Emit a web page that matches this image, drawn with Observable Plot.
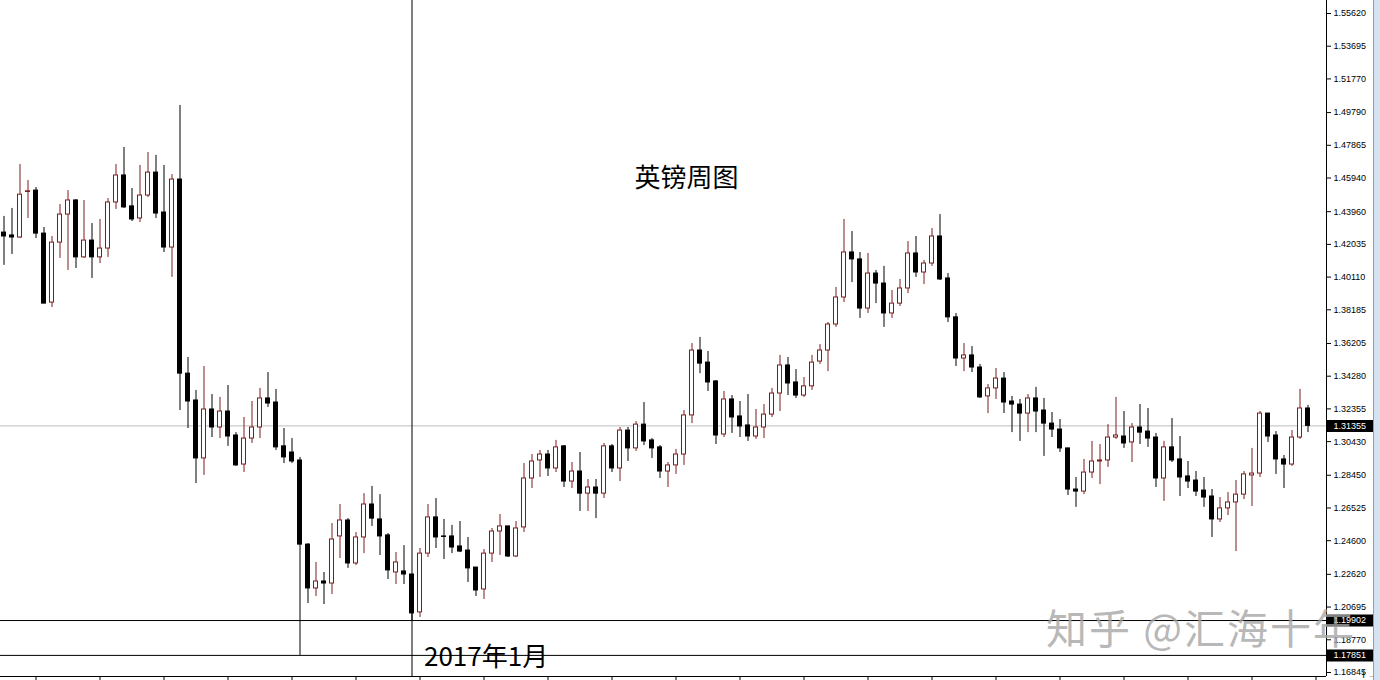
<!DOCTYPE html>
<html>
<head>
<meta charset="utf-8">
<script src="https://cdn.jsdelivr.net/npm/d3@7"></script>
<script src="https://cdn.jsdelivr.net/npm/@observablehq/plot@0.6"></script>
<style>
  html, body { margin: 0; padding: 0; background: #fff; overflow: hidden; }
  #wrap { position: relative; width: 1380px; height: 680px; }
  #strip { position: absolute; left: 1373px; top: 0; width: 7px; height: 680px; background: #d5e2f1; border-left: 1px solid #8e9db3; box-sizing: border-box; }
  #wm { position: absolute; left: 1046px; top: 596px; font-family: "Noto Sans CJK SC", sans-serif; font-size: 41px; color: rgba(165,165,165,0.8); white-space: nowrap; letter-spacing: 2px; }
</style>
</head>
<body>
<div id="wrap"><div id="chart"></div><div id="strip"></div><div id="wm">知乎 @汇海十年</div></div>
<script>
// Weekly GBP/USD candles (index 0..163)
const open = [
1.4273, 1.4256, 1.4244, 1.4512, 1.4520, 1.4267, 1.3861, 1.4214, 1.4379, 1.4462,
1.4127, 1.4226, 1.4127, 1.4179, 1.4450, 1.4609, 1.4427, 1.4356, 1.4491, 1.4626,
1.4391, 1.4185, 1.4585, 1.3443, 1.3285, 1.2944, 1.3232, 1.3126, 1.3220, 1.3079,
1.2908, 1.3061, 1.3126, 1.3297, 1.3273, 1.3015, 1.2979, 1.2932, 1.2437, 1.2179,
1.2220, 1.2208, 1.2485, 1.2579, 1.2326, 1.2479, 1.2673, 1.2585, 1.2491, 1.2273,
1.2279, 1.2261, 1.2038, 1.2384, 1.2597, 1.2485, 1.2485, 1.2426, 1.2402, 1.2302,
1.2173, 1.2384, 1.2514, 1.2544, 1.2367, 1.2538, 1.2826, 1.2932, 1.2967, 1.2885,
1.3015, 1.2808, 1.2867, 1.2737, 1.2773, 1.2737, 1.3015, 1.2885, 1.3108, 1.3003,
1.3143, 1.3050, 1.3009, 1.2867, 1.2903, 1.2967, 1.3197, 1.3579, 1.3508, 1.3397,
1.3085, 1.3291, 1.3191, 1.3138, 1.3073, 1.3126, 1.3202, 1.3326, 1.3491, 1.3391,
1.3314, 1.3368, 1.3514, 1.3579, 1.3732, 1.3891, 1.4156, 1.4115, 1.3826, 1.4032,
1.3973, 1.3797, 1.3855, 1.3944, 1.4150, 1.4038, 1.4091, 1.4250, 1.4003, 1.3774,
1.3532, 1.3550, 1.3479, 1.3309, 1.3356, 1.3414, 1.3279, 1.3261, 1.3208, 1.3297,
1.3226, 1.3149, 1.3114, 1.3003, 1.2761, 1.2749, 1.2861, 1.2926, 1.2932, 1.3067,
1.3073, 1.3038, 1.3126, 1.3102, 1.3067, 1.2826, 1.3009, 1.2938, 1.2838, 1.2814,
1.2755, 1.2720, 1.2585, 1.2650, 1.2685, 1.2731, 1.2844, 1.2855, 1.3208, 1.3079,
1.2938, 1.2908, 1.3067, 1.3238
];
const high = [
1.4368, 1.4415, 1.4673, 1.4579, 1.4538, 1.4303, 1.4250, 1.4438, 1.4520, 1.4467,
1.4462, 1.4326, 1.4350, 1.4473, 1.4673, 1.4774, 1.4532, 1.4668, 1.4744, 1.4727,
1.4668, 1.4614, 1.5021, 1.3538, 1.3344, 1.3485, 1.3320, 1.3303, 1.3373, 1.3096,
1.3185, 1.3279, 1.3356, 1.3449, 1.3350, 1.3120, 1.3061, 1.2950, 1.2443, 1.2332,
1.2273, 1.2561, 1.2673, 1.2590, 1.2508, 1.2737, 1.2779, 1.2731, 1.2502, 1.2390,
1.2431, 1.2261, 1.2414, 1.2673, 1.2708, 1.2585, 1.2550, 1.2573, 1.2479, 1.2302,
1.2408, 1.2532, 1.2614, 1.2544, 1.2573, 1.2914, 1.2967, 1.2991, 1.2991, 1.3050,
1.3020, 1.2920, 1.2979, 1.2820, 1.2820, 1.3032, 1.3026, 1.3126, 1.3126, 1.3161,
1.3273, 1.3061, 1.3020, 1.2920, 1.2997, 1.3226, 1.3620, 1.3656, 1.3573, 1.3403,
1.3338, 1.3314, 1.3279, 1.3320, 1.3232, 1.3261, 1.3356, 1.3550, 1.3538, 1.3467,
1.3420, 1.3550, 1.3614, 1.3744, 1.3950, 1.4350, 1.4279, 1.4156, 1.4150, 1.4050,
1.4074, 1.3932, 1.3997, 1.4220, 1.4250, 1.4109, 1.4297, 1.4379, 1.4032, 1.3797,
1.3620, 1.3602, 1.3497, 1.3379, 1.3473, 1.3449, 1.3309, 1.3291, 1.3320, 1.3362,
1.3297, 1.3214, 1.3173, 1.3003, 1.2832, 1.2938, 1.3044, 1.3026, 1.3143, 1.3303,
1.3220, 1.3149, 1.3261, 1.3238, 1.3091, 1.3044, 1.3179, 1.3073, 1.2926, 1.2867,
1.2832, 1.2761, 1.2714, 1.2743, 1.2814, 1.2867, 1.3003, 1.3220, 1.3208, 1.3102,
1.2961, 1.3108, 1.3350, 1.3256
];
const low = [
1.4080, 1.4144, 1.4238, 1.4356, 1.4238, 1.3855, 1.3832, 1.4121, 1.4050, 1.4062,
1.4121, 1.4003, 1.4091, 1.4127, 1.4409, 1.4415, 1.4338, 1.4332, 1.4479, 1.4356,
1.4156, 1.4009, 1.3226, 1.3120, 1.2796, 1.2844, 1.3067, 1.3061, 1.3015, 1.2897,
1.2861, 1.3032, 1.3061, 1.3244, 1.2991, 1.2914, 1.2914, 1.1785, 1.2090, 1.2132,
1.2084, 1.2143, 1.2355, 1.2297, 1.2314, 1.2384, 1.2544, 1.2373, 1.2232, 1.2202,
1.2202, 1.1990, 1.2008, 1.2361, 1.2414, 1.2349, 1.2384, 1.2390, 1.2214, 1.2132,
1.2114, 1.2332, 1.2373, 1.2361, 1.2361, 1.2508, 1.2767, 1.2832, 1.2838, 1.2861,
1.2773, 1.2767, 1.2632, 1.2632, 1.2590, 1.2708, 1.2861, 1.2808, 1.2926, 1.2985,
1.3020, 1.2944, 1.2826, 1.2773, 1.2850, 1.2903, 1.3149, 1.3443, 1.3338, 1.3026,
1.3067, 1.3091, 1.3067, 1.3044, 1.3056, 1.3061, 1.3185, 1.3220, 1.3314, 1.3297,
1.3303, 1.3344, 1.3497, 1.3455, 1.3715, 1.3861, 1.3979, 1.3768, 1.3797, 1.3855,
1.3715, 1.3768, 1.3838, 1.3914, 1.4009, 1.3967, 1.4074, 1.3991, 1.3744, 1.3485,
1.3455, 1.3449, 1.3297, 1.3208, 1.3291, 1.3208, 1.3096, 1.3044, 1.3096, 1.3096,
1.2956, 1.3067, 1.2979, 1.2726, 1.2656, 1.2731, 1.2826, 1.2790, 1.2891, 1.3056,
1.3003, 1.2920, 1.3026, 1.3009, 1.2773, 1.2691, 1.2920, 1.2720, 1.2767, 1.2720,
1.2656, 1.2479, 1.2567, 1.2608, 1.2396, 1.2702, 1.2661, 1.2832, 1.3038, 1.2850,
1.2767, 1.2897, 1.3056, 1.3096
];
const close = [
1.4250, 1.4244, 1.4496, 1.4516, 1.4267, 1.3855, 1.4214, 1.4379, 1.4462, 1.4127,
1.4226, 1.4127, 1.4179, 1.4450, 1.4609, 1.4421, 1.4350, 1.4491, 1.4626, 1.4385,
1.4185, 1.4585, 1.3443, 1.3279, 1.2944, 1.3232, 1.3126, 1.3220, 1.3073, 1.2903,
1.3061, 1.3126, 1.3297, 1.3267, 1.3009, 1.2950, 1.2926, 1.2437, 1.2179, 1.2220,
1.2208, 1.2467, 1.2579, 1.2326, 1.2479, 1.2673, 1.2590, 1.2485, 1.2285, 1.2332,
1.2261, 1.2032, 1.2384, 1.2597, 1.2479, 1.2482, 1.2420, 1.2396, 1.2297, 1.2167,
1.2384, 1.2514, 1.2544, 1.2367, 1.2532, 1.2826, 1.2926, 1.2967, 1.2885, 1.3009,
1.2808, 1.2867, 1.2737, 1.2773, 1.2737, 1.3015, 1.2885, 1.3108, 1.3003, 1.3143,
1.3044, 1.3003, 1.2867, 1.2903, 1.2967, 1.3197, 1.3579, 1.3502, 1.3391, 1.3079,
1.3291, 1.3185, 1.3132, 1.3073, 1.3126, 1.3202, 1.3326, 1.3491, 1.3385, 1.3314,
1.3368, 1.3508, 1.3579, 1.3732, 1.3891, 1.4156, 1.4115, 1.3826, 1.4032, 1.3973,
1.3797, 1.3855, 1.3944, 1.4150, 1.4038, 1.4091, 1.4250, 1.3997, 1.3774, 1.3532,
1.3550, 1.3479, 1.3303, 1.3356, 1.3414, 1.3273, 1.3261, 1.3208, 1.3297, 1.3220,
1.3149, 1.3114, 1.3003, 1.2761, 1.2749, 1.2861, 1.2926, 1.2932, 1.3067, 1.3079,
1.3032, 1.3126, 1.3096, 1.3061, 1.2826, 1.3009, 1.2932, 1.2832, 1.2808, 1.2749,
1.2714, 1.2585, 1.2650, 1.2685, 1.2731, 1.2850, 1.2855, 1.3208, 1.3073, 1.2938,
1.2908, 1.3067, 1.3238, 1.31355
];

// Axis tick labels (price) and highlighted levels
const yTicks = [1.55620, 1.53695, 1.51770, 1.49790, 1.47865, 1.45940, 1.43960, 1.42035, 1.40110,
  1.38185, 1.36205, 1.34280, 1.32355, 1.30430, 1.28450, 1.26525, 1.24600, 1.22620, 1.20695,
  1.18770, 1.16845];
const currentPrice = [1.31355];
const levelLines = [1.19902, 1.17851];
const highlightLabels = [1.31355, 1.19902, 1.17851];
const xTicks = d3.range(4, 166, 8);
const markerCandle = [51];
const titleLabel = [{text: "英镑周图", i: 85.3, price: 1.4590}];
const dateLabel = [{text: "2017年1月", i: 51, price: 1.1772}];

const candles = open.map((o, i) => ({i, open: o, high: high[i], low: low[i], close: close[i], up: close[i] >= o}));

const bull = "#7d1b1b";
const xDomain = [-0.4375, 165.3125];
const yDomain = [1.16609, 1.56385];
const fmt = d3.format(".5f");
const axisFont = 9;

const chart = Plot.plot({
  width: 1380,
  height: 680,
  marginTop: 0,
  marginBottom: 4,
  marginLeft: 0,
  marginRight: 54,
  x: {domain: xDomain, axis: null},
  y: {domain: yDomain, axis: null},
  style: {background: "white", fontFamily: "'Liberation Sans', Arial, sans-serif", color: "black"},
  marks: [
    Plot.ruleY(currentPrice, {stroke: "#bdbdbd"}),
    Plot.ruleY(levelLines, {stroke: "black"}),
    Plot.ruleX(markerCandle, {stroke: "black"}),
    Plot.ruleX(candles, {x: "i", y1: "low", y2: "high", stroke: d => d.up ? bull : "black"}),
    Plot.rect(candles, {
      x1: d => d.i - 0.25, x2: d => d.i + 0.25, y1: "open", y2: "close",
      fill: d => d.up ? "white" : "black",
      stroke: d => d.up ? bull : "black",
      strokeWidth: 1
    }),
    Plot.ruleY([yDomain[0]], {stroke: "black"}),
    Plot.ruleX([xDomain[1]], {stroke: "black"}),
    Plot.axisX({ticks: xTicks, anchor: "bottom", tickSize: 4, tickFormat: () => ""}),
    Plot.axisY({ticks: yTicks, anchor: "right", tickSize: 4, tickPadding: 3, tickFormat: fmt, fontSize: axisFont}),
    Plot.ruleY(highlightLabels, {stroke: "black", strokeWidth: 12, insetLeft: 1327, insetRight: -49}),
    Plot.text(highlightLabels, {y: d => d, text: d => fmt(d), frameAnchor: "right", textAnchor: "start", dx: 7, fill: "white", fontSize: axisFont}),
    Plot.text(titleLabel, {x: "i", y: "price", text: "text", fontSize: 26, fontFamily: "'Noto Sans CJK SC', sans-serif", fill: "black"}),
    Plot.text(dateLabel, {x: "i", y: "price", text: "text", textAnchor: "start", dx: 12, fontSize: 26, fontFamily: "'Noto Sans CJK SC', sans-serif", fill: "black"})
  ]
});
document.getElementById("chart").appendChild(chart);
</script>
</body>
</html>
